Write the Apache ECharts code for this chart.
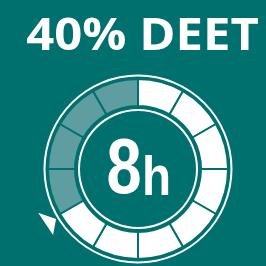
<!DOCTYPE html>
<html>
<head>
<meta charset="utf-8">
<script src="https://cdn.jsdelivr.net/npm/echarts@6/dist/echarts.min.js"></script>
<style>
  html, body { margin: 0; padding: 0; background: #00706f; }
  #chart { width: 266px; height: 266px; }
</style>
</head>
<body>
<div id="chart"></div>
<script>
// data
const titleText = '40% DEET';
const hoursValue = '8';
const hoursUnit = 'h';
const segmentCount = 12;     // ring made of 12 equal blocks
const shadedCount = 4;       // blocks shaded, counted from 12 o'clock going anticlockwise

const BG = '#00706f';
const SHADE = '#5f9ea0';
const CX = 138, CY = 169;
const NUM_FONT = '"Liberation Sans", Arial, sans-serif';

const chart = echarts.init(document.getElementById('chart'), null, { renderer: 'canvas' });

// segments: clockwise from 12 o'clock, the last ones are the shaded (left) side
const segments = [];
for (let i = 0; i < segmentCount; i++) {
  const shaded = i >= segmentCount - shadedCount;
  segments.push({ value: 1, itemStyle: { color: shaded ? SHADE : '#ffffff' } });
}

// little arrow head sitting on the outer ring, given in polar terms (deg, radius)
const arrowPolar = [[203.7, 109], [211.4, 96], [217.8, 107.5]];
const arrowPts = arrowPolar.map(([a, r]) => {
  const rad = a * Math.PI / 180;
  return [CX + r * Math.cos(rad), CY - r * Math.sin(rad)];
});

const option = {
  backgroundColor: BG,
  animation: false,
  series: [
    {
      type: 'pie',
      center: [CX, CY],
      radius: [63, 90],
      startAngle: 90,
      clockwise: true,
      silent: true,
      label: { show: false },
      labelLine: { show: false },
      itemStyle: { borderColor: BG, borderWidth: 2 },
      data: segments
    },
    {
      // inner thin ring
      type: 'pie',
      center: [CX, CY],
      radius: [58, 60],
      silent: true,
      label: { show: false },
      itemStyle: { color: '#ffffff' },
      data: [1]
    },
    {
      // outer thin ring
      type: 'pie',
      center: [CX, CY],
      radius: [92.5, 94.5],
      silent: true,
      label: { show: false },
      itemStyle: { color: '#ffffff' },
      data: [1]
    }
  ],
  graphic: [
    {
      type: 'text',
      x: 142.5,
      y: 37,
      scaleX: 1.09,
      style: {
        text: titleText,
        fill: '#ffffff',
        font: 'bold 45px "Open Sans", sans-serif',
        textAlign: 'center',
        textVerticalAlign: 'middle'
      }
    },
    {
      type: 'text',
      x: 124,
      y: 172,
      scaleX: 0.82,
      style: {
        text: hoursValue,
        fill: '#ffffff',
        font: 'bold 77px ' + NUM_FONT,
        textAlign: 'center',
        textVerticalAlign: 'middle'
      }
    },
    {
      type: 'text',
      x: 156.5,
      y: 180,
      scaleX: 0.85,
      style: {
        text: hoursUnit,
        fill: '#ffffff',
        font: 'bold 56px ' + NUM_FONT,
        textAlign: 'center',
        textVerticalAlign: 'middle'
      }
    },
    {
      type: 'polygon',
      shape: { points: arrowPts },
      style: { fill: '#ffffff' }
    }
  ]
};

chart.setOption(option);
</script>
</body>
</html>
